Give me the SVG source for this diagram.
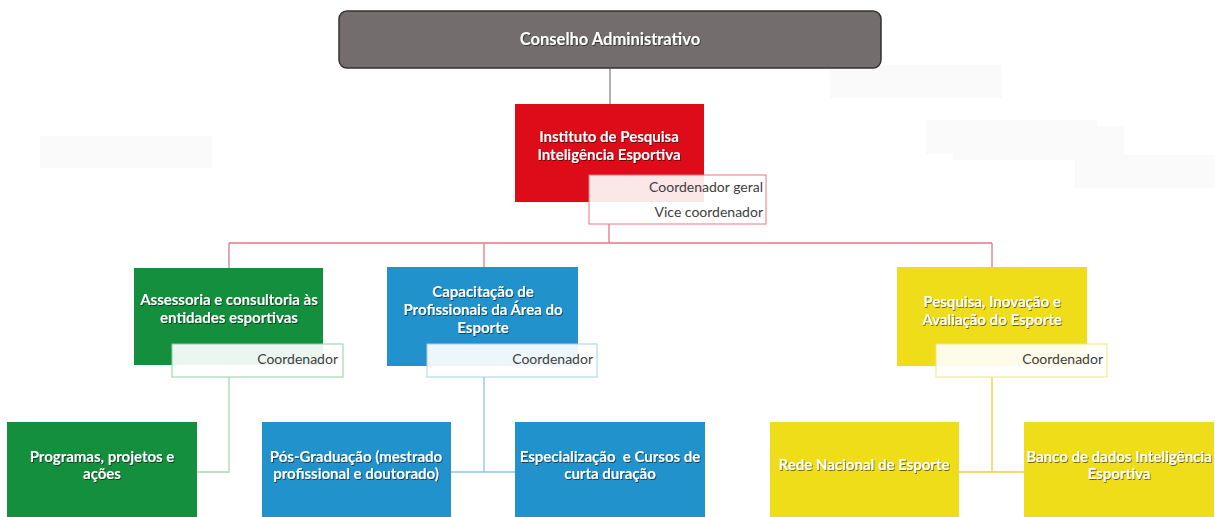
<svg xmlns="http://www.w3.org/2000/svg" width="1215" height="517" viewBox="0 0 1215 517">
<defs>
<style>
.t{font-family:Lato,"Open Sans","Liberation Sans",sans-serif;font-weight:bold;fill:#ffffff;text-anchor:middle;font-size:15px;filter:url(#sh)}
.s{font-family:Lato,"Open Sans","Liberation Sans",sans-serif;fill:#404040;text-anchor:end;font-size:14px}
.ghost{fill:#fafafa}
.c{fill:none;stroke-width:1.3}
</style>
<filter id="sh" x="-10%" y="-30%" width="120%" height="160%">
<feDropShadow dx="0.8" dy="1" stdDeviation="0.7" flood-color="#000" flood-opacity="0.55"/>
</filter>
</defs>
<rect width="1215" height="517" fill="#ffffff"/>
<g id="ghosts">
<rect class="ghost" x="40" y="136" width="172" height="32"/>
<rect class="ghost" x="830" y="65" width="172" height="33"/>
<rect class="ghost" x="926" y="120" width="171" height="34"/>
<rect class="ghost" x="953" y="126" width="171" height="34"/>
<rect class="ghost" x="1075" y="155" width="140" height="33"/>
</g>
<g id="connectors">
<line class="c" x1="610" y1="68" x2="610" y2="104" stroke="#8a8686"/>
<polyline class="c" points="609,224 609,243" stroke="#e27a80"/>
<line class="c" x1="229" y1="243" x2="992" y2="243" stroke="#e27a80"/>
<line class="c" x1="229" y1="243" x2="229" y2="268" stroke="#e27a80"/>
<line class="c" x1="484" y1="243" x2="484" y2="267" stroke="#e27a80"/>
<line class="c" x1="992" y1="243" x2="992" y2="267" stroke="#e27a80"/>
<polyline class="c" points="229,377 229,472 197,472" stroke="#a9d8b2"/>
<polyline class="c" points="484,377 484,472" stroke="#8cc3e8"/>
<line class="c" x1="451" y1="472" x2="515" y2="472" stroke="#8cc3e8"/>
<polyline class="c" points="992,377 992,472" stroke="#f3c93c"/>
<line class="c" x1="959" y1="472" x2="1024" y2="472" stroke="#f3c93c"/>
</g>
<g id="conselho">
<rect x="339" y="11" width="542" height="57" rx="8" fill="#736e6d" stroke="#333333" stroke-width="1.5"/>
<text class="t" x="610" y="45" style="font-size:16.5px">Conselho Administrativo</text>
</g>
<g id="instituto">
<rect x="515" y="104" width="189" height="98" fill="#de0b18"/>
<text class="t" x="609" y="142">Instituto de Pesquisa</text>
<text class="t" x="609" y="160">Inteligência Esportiva</text>
<rect x="589" y="175" width="177" height="49" fill="#ffffff" fill-opacity="0.9" stroke="#e8787e" stroke-width="1"/>
<text class="s" x="763" y="192">Coordenador geral</text>
<text class="s" x="763" y="217">Vice coordenador</text>
</g>
<g id="assessoria">
<rect x="134" y="268" width="189" height="97" fill="#148f3e"/>
<text class="t" x="229" y="305">Assessoria e consultoria às</text>
<text class="t" x="229" y="323">entidades esportivas</text>
<rect x="172" y="344" width="171" height="33" fill="#ffffff" fill-opacity="0.92" stroke="#8fd09f" stroke-width="1"/>
<text class="s" x="338" y="364">Coordenador</text>
</g>
<g id="capacitacao">
<rect x="387" y="267" width="191" height="99" fill="#2192cb"/>
<text class="t" x="483" y="297">Capacitação de</text>
<text class="t" x="483" y="315">Profissionais da Área do</text>
<text class="t" x="483" y="333">Esporte</text>
<rect x="427" y="344" width="170" height="33" fill="#ffffff" fill-opacity="0.92" stroke="#9fd0ee" stroke-width="1"/>
<text class="s" x="593" y="364">Coordenador</text>
</g>
<g id="pesquisa">
<rect x="897" y="267" width="190" height="99" fill="#f0dd1a"/>
<text class="t" x="992" y="307">Pesquisa, Inovação e</text>
<text class="t" x="992" y="325">Avaliação do Esporte</text>
<rect x="936" y="344" width="171" height="33" fill="#ffffff" fill-opacity="0.9" stroke="#f4e577" stroke-width="1"/>
<text class="s" x="1103" y="364">Coordenador</text>
</g>
<g id="programas">
<rect x="7" y="422" width="190" height="100" fill="#148f3e"/>
<text class="t" x="102" y="462">Programas, projetos e</text>
<text class="t" x="102" y="479">ações</text>
</g>
<g id="posgraduacao">
<rect x="262" y="422" width="189" height="100" fill="#2192cb"/>
<text class="t" x="356" y="462">Pós-Graduação (mestrado</text>
<text class="t" x="356" y="479">profissional e doutorado)</text>
</g>
<g id="especializacao">
<rect x="515" y="422" width="190" height="100" fill="#2192cb"/>
<text class="t" x="610" y="462" style="white-space:pre">Especialização  e Cursos de</text>
<text class="t" x="610" y="479">curta duração</text>
</g>
<g id="rede">
<rect x="770" y="422" width="189" height="100" fill="#f0dd1a"/>
<text class="t" x="864" y="470">Rede Nacional de Esporte</text>
</g>
<g id="banco">
<rect x="1024" y="422" width="190" height="100" fill="#f0dd1a"/>
<text class="t" x="1119" y="462">Banco de dados Inteligência</text>
<text class="t" x="1119" y="479">Esportiva</text>
</g>
</svg>
